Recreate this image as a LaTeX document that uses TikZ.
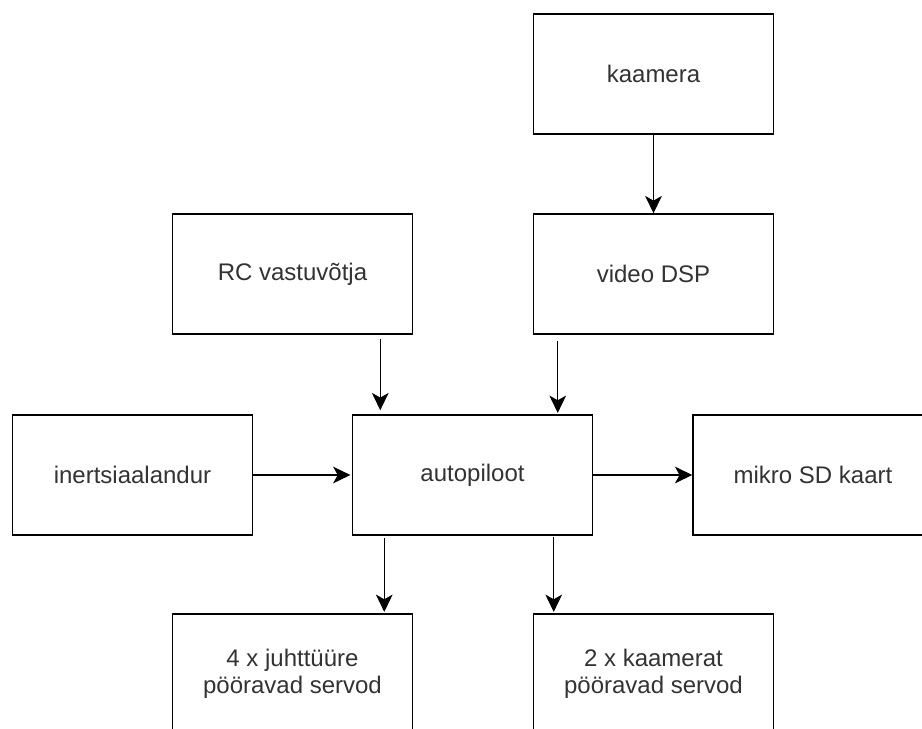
\documentclass[tikz,border=0pt]{standalone}
\usepackage{fontspec}
\setmainfont{Liberation Sans}
\usetikzlibrary{arrows.meta,calc}

\definecolor{txtgray}{HTML}{333333}

\begin{document}
\begin{tikzpicture}[x=0.75pt, y=-0.75pt,
    block/.style={draw=black, line width=1.1pt, fill=white, minimum width=180pt,
        minimum height=90pt, inner sep=0pt, align=center, text=txtgray,
        font=\fontsize{18}{20.25}\selectfont},
    arr/.style={line width=1.1pt, -{Stealth[length=13pt, width=12.5pt, inset=3.5pt]}}]

    % Fix the picture size and cut what runs over the edge
    \useasboundingbox (0,0) rectangle (922,729);
    \clip (0,0) rectangle (922,729);

    % Blocks
    \node[block] (kaamera) at (653.5,74) {kaamera};
    \node[block] (rc) at (292.5,274) {RC vastuvõtja};
    \node[block] (dsp) at (653.5,274) {video DSP};
    \node[block] (inert) at (132.5,475) {inertsiaalandur};
    \node[block] (auto) at (472.5,475) {autopiloot};
    \node[block] (sd) at (813,475) {mikro SD kaart};
    \node[block] (juht) at (292.5,674) {4 x juhttüüre\\pööravad servod};
    \node[block] (kservo) at (653.5,674) {2 x kaamerat\\pööravad servod};

    % Entry and exit points on the autopilot
    \coordinate (rcin) at ($(auto.north west)+(28.5,0)$);
    \coordinate (dspin) at ($(auto.north east)+(-35.5,0)$);
    \coordinate (juhtout) at ($(auto.south west)+(32.5,0)$);
    \coordinate (kservoout) at ($(auto.south east)+(-39.5,0)$);

    % Camera chain
    \draw[arr] (kaamera) -- (dsp);

    % Inputs to the autopilot
    \draw[arr, shorten <=3pt, shorten >=3pt] (rc.south -| rcin) -- (rcin);
    \draw[arr, shorten <=5pt, shorten >=1pt] (dsp.south -| dspin) -- (dspin);
    \draw[arr, shorten >=1pt] (inert) -- (auto);

    % Outputs of the autopilot
    \draw[arr] (auto) -- (sd);
    \draw[arr, shorten <=2pt, shorten >=1pt] (juhtout) -- (juht.north -| juhtout);
    \draw[arr, shorten <=1pt, shorten >=1pt] (kservoout) -- (kservo.north -| kservoout);
\end{tikzpicture}
\end{document}
